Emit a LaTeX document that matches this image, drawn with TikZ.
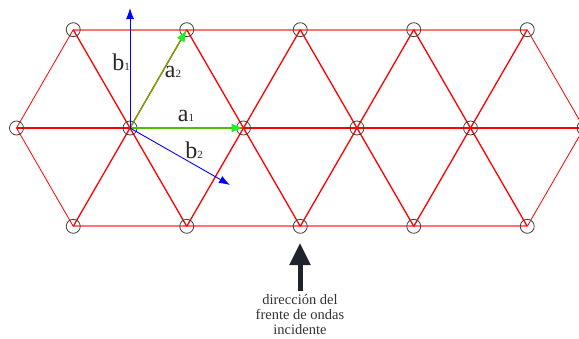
\documentclass[tikz,border=0pt]{standalone}
\usepackage{fontspec}
\setmainfont{Liberation Serif}
\definecolor{AtomGray}{HTML}{404040}
\definecolor{VecGreen}{HTML}{55BB00}
\definecolor{TipGreen}{HTML}{22EE22}
\definecolor{FrenteDark}{HTML}{1F242C}
\usetikzlibrary{arrows.meta,positioning,calc}

\begin{document}
\begin{tikzpicture}[x=1pt,y=-1pt,
    enlace/.style={red,line width=1.3pt},
    borde/.style={red,line width=0.8pt},
    fila/.style={red!55,line width=2pt},
    atomo/.style={circle,draw=AtomGray,line width=0.8pt,minimum size=14pt,inner sep=0pt},
    vecb/.style={blue,line width=0.9pt,-{Latex[length=11pt,width=8pt]}},
    veca/.style={VecGreen,line width=1.1pt,-{Latex[length=12pt,width=9pt,color=TipGreen]}},
    etiq/.style={text=black!85,font=\fontsize{24}{24}\selectfont,inner sep=0pt}]
      \clip (0,0) rectangle (579,338);
      % puntos de la red
      \foreach \i in {0,...,5}
        \coordinate (m\i) at ({16.5+113.5*\i},128);
      \foreach \i in {0,...,4} {
        \coordinate (t\i) at ({73.25+113.5*\i},29.7);
        \coordinate (d\i) at ({73.25+113.5*\i},226.3);
      }
      % enlaces
      \draw[fila] (t0) -- (t4);
      \draw[fila] (d0) -- (d4);
      \draw[enlace] (m0) -- (m5);
      \draw[borde] (t0) -- (m0) -- (d0);
      \draw[borde] (t4) -- (m5) -- (d4);
      \foreach \i in {1,...,4}
        \draw[enlace] (t\i) -- (m\i) -- (d\i);
      \foreach \i [evaluate=\i as \j using int(\i+1)] in {0,...,3}
        \draw[enlace] (t\i) -- (m\j) -- (d\i);
      % atomos
      \foreach \i in {0,...,5}
        \node[atomo] (am\i) at (m\i) {};
      \foreach \i in {0,...,4} {
        \node[atomo] (at\i) at (t\i) {};
        \node[atomo] (ad\i) at (d\i) {};
      }
      % vectores
      \coordinate (b1tip) at (130,8);
      \coordinate (b2tip) at (230,185);
      \draw[veca] (m1) -- (m2);
      \draw[veca] (m1) -- (t1);
      \draw[vecb] (m1) -- (b1tip);
      \draw[vecb] (m1) -- (b2tip);
      \node[etiq] (lb1) at (121,62) {b{\fontsize{11}{11}\selectfont 1}};
      \node[etiq] (la2) at (173,72) {a{\fontsize{11}{11}\selectfont 2}};
      \node[etiq] (la1) at (186,116) {a{\fontsize{11}{11}\selectfont 1}};
      \node[etiq] (lb2) at (194,150) {b{\fontsize{11}{11}\selectfont 2}};
      % frente de ondas
      \coordinate (fbase) at (300,291);
      \coordinate (ftip) at (300,243);
      \draw[FrenteDark,line width=5pt,-{Triangle[length=22pt,width=20pt]}] (fbase) -- (ftip);
      \node[text=black!80,align=center,font=\fontsize{14.5}{15}\selectfont,inner sep=0pt]
        (frente) at (300,315) {dirección del\\frente de ondas\\incidente};
    \end{tikzpicture}
\end{document}
